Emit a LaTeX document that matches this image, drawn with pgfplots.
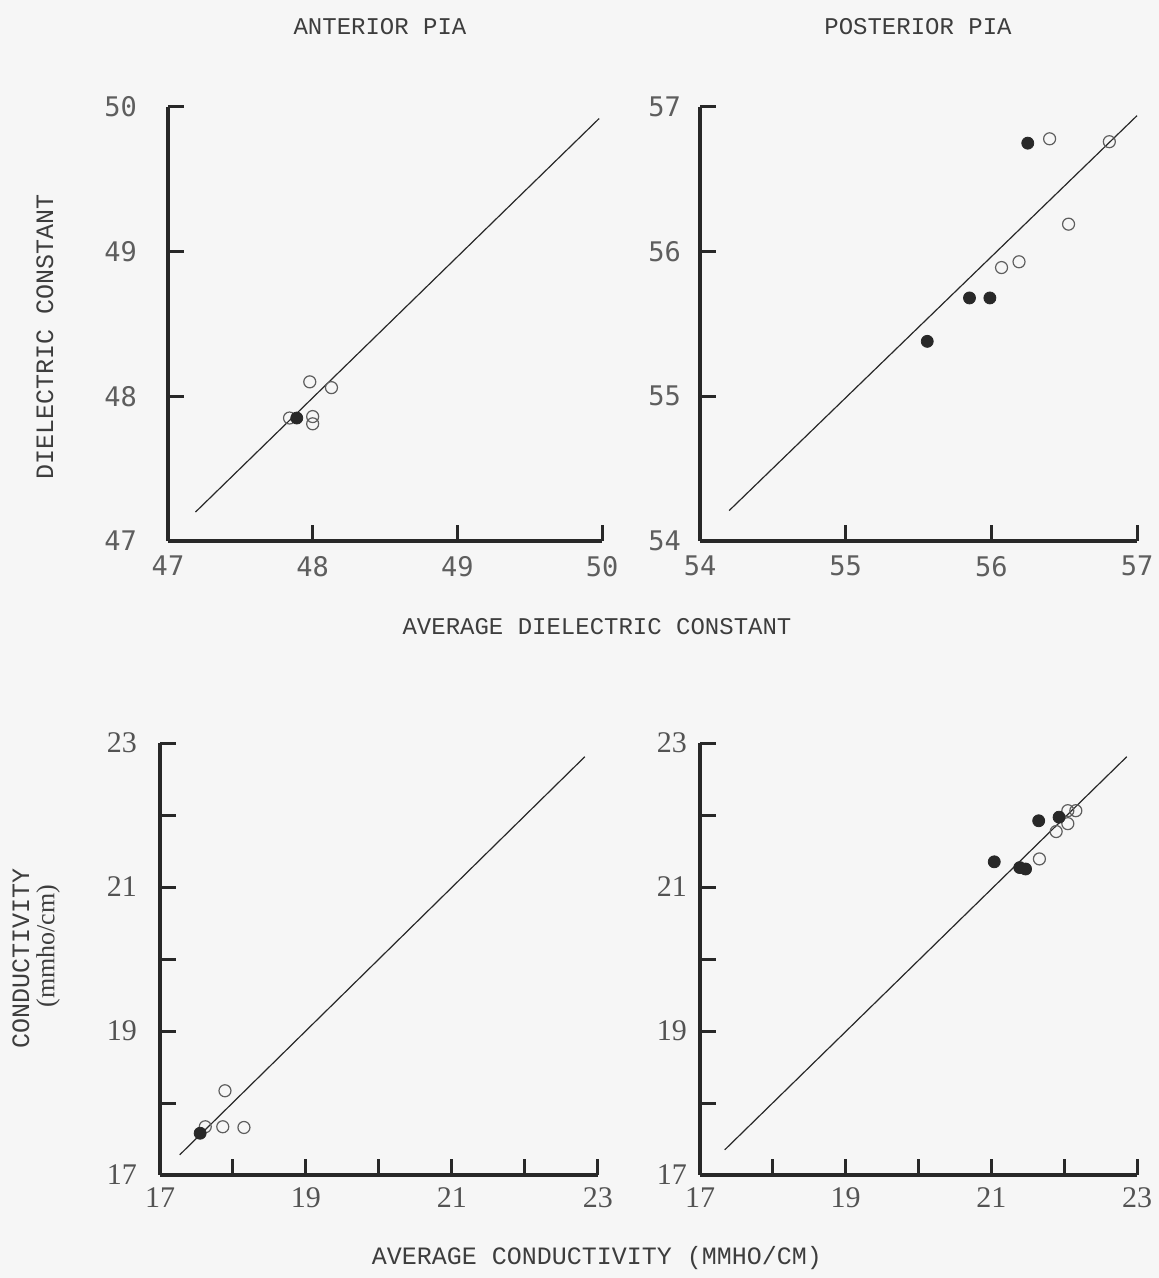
\documentclass[border=0pt]{standalone}
\usepackage{fontspec}
\setmainfont{Liberation Mono}
\newfontfamily\tickfont{DejaVu Sans Mono}
\newfontfamily\seriffont{Liberation Serif}
\usepackage{pgfplots}
\pgfplotsset{compat=1.18}
\definecolor{ink}{RGB}{40,40,40}
\definecolor{paper}{RGB}{246,246,246}
\pgfplotsset{
  panel/.style={
    scale only axis, anchor=south west,
    axis lines=left, axis line style={-, line width=1.6pt, ink},
    tick align=inside, major tick length=8pt,
    tick style={line width=1.5pt, ink},
    ticklabel style={font=\tickfont\fontsize{13.5}{13.5}\selectfont, text=ink!75},
    /pgf/number format/assume math mode=true,
    clip=false,
  },
  serifticks/.style={ticklabel style={font=\seriffont\fontsize{15}{15}\selectfont, text=ink!80}},
  fitline/.style={no marks, line width=0.6pt, ink},
  openpt/.style={only marks, mark=o, mark size=3pt, mark options={line width=0.6pt, draw=ink!75}},
  fillpt/.style={only marks, mark=*, mark size=3pt, mark options={draw=ink, fill=ink}},
}
\begin{document}
\begin{tikzpicture}
\useasboundingbox (0,0) rectangle (579.5pt,639pt);
\fill[paper] (0,0) rectangle (579.5pt,639pt);

% Top-left: anterior pia, dielectric
\begin{axis}[panel, at={(84pt,368.5pt)}, width=217pt, height=217pt,
  xmin=47, xmax=50, ymin=47, ymax=50,
  xtick={47,48,49,50}, ytick={47,48,49,50},
  yticklabel shift=12pt, xticklabel shift=4pt]
\addplot[fitline] coordinates {(47.19,47.20) (49.98,49.92)};
\addplot[openpt] coordinates {(47.84,47.85) (48.00,47.86) (48.00,47.81) (47.98,48.10) (48.13,48.06)};
\addplot[fillpt] coordinates {(47.89,47.85)};
\end{axis}

% Top-right: posterior pia, dielectric
\begin{axis}[panel, at={(350pt,368.5pt)}, width=218.5pt, height=217pt,
  xmin=54, xmax=57, ymin=54, ymax=57,
  xtick={54,55,56,57}, ytick={54,55,56,57},
  yticklabel shift=6pt, xticklabel shift=4pt]
\addplot[fitline] coordinates {(54.20,54.21) (57.00,56.94)};
\addplot[openpt] coordinates {(56.40,56.78) (56.81,56.76) (56.53,56.19) (56.19,55.93) (56.07,55.89)};
\addplot[fillpt] coordinates {(56.25,56.75) (55.85,55.68) (55.99,55.68) (55.56,55.38)};
\end{axis}

% Bottom-left: anterior pia, conductivity
\begin{axis}[panel, serifticks, at={(80pt,51.5pt)}, width=219pt, height=216pt,
  xmin=17, xmax=23, ymin=17, ymax=23,
  xtick={17,...,23}, ytick={17,...,23},
  xticklabels={17,,19,,21,,23}, yticklabels={17,,19,,21,,23},
  yticklabel shift=8pt, xticklabel shift=3pt]
\addplot[fitline] coordinates {(17.27,17.28) (22.82,22.81)};
\addplot[openpt] coordinates {(17.62,17.67) (17.86,17.67) (18.15,17.66) (17.89,18.17)};
\addplot[fillpt] coordinates {(17.55,17.58)};
\end{axis}

% Bottom-right: posterior pia, conductivity
\begin{axis}[panel, serifticks, at={(350pt,51.5pt)}, width=218.5pt, height=216pt,
  xmin=17, xmax=23, ymin=17, ymax=23,
  xtick={17,...,23}, ytick={17,...,23},
  xticklabels={17,,19,,21,,23}, yticklabels={17,,19,,21,,23},
  yticklabel shift=3pt, xticklabel shift=3pt]
\addplot[fitline] coordinates {(17.34,17.35) (22.86,22.81)};
\addplot[openpt] coordinates {(22.05,22.06) (22.16,22.06) (22.05,21.88) (21.89,21.77) (21.66,21.39)};
\addplot[fillpt] coordinates {(21.65,21.92) (21.93,21.97) (21.04,21.35) (21.39,21.27) (21.47,21.25)};
\end{axis}

\begin{scope}[every node/.style={text=ink!90, inner sep=0pt}]
\node[font=\fontsize{12}{12}\selectfont] at (190pt,625.5pt) {ANTERIOR PIA};
\node[font=\fontsize{12}{12}\selectfont] at (459pt,625.5pt) {POSTERIOR PIA};
\node[font=\fontsize{12.5}{12.5}\selectfont, rotate=90] at (22.5pt,470.5pt) {DIELECTRIC CONSTANT};
\node[font=\fontsize{12}{12}\selectfont] at (298.5pt,325.5pt) {AVERAGE DIELECTRIC CONSTANT};
\node[font=\fontsize{12.5}{12.5}\selectfont, rotate=90] at (10.5pt,160pt) {CONDUCTIVITY};
\node[font=\seriffont\fontsize{13}{13}\selectfont, rotate=90] at (24pt,166pt) {(mmho/cm)};
\node[font=\fontsize{12.5}{12.5}\selectfont] at (298.5pt,10pt) {AVERAGE CONDUCTIVITY (MMHO/CM)};
\end{scope}
\end{tikzpicture}
\end{document}
